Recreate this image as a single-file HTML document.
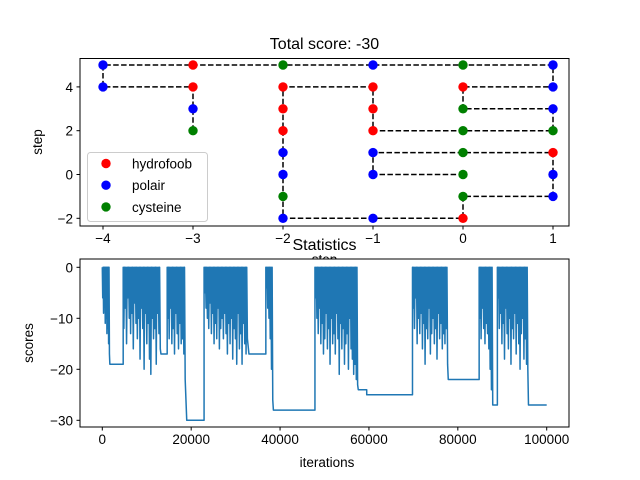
<!DOCTYPE html>
<html><head><meta charset="utf-8"><style>
html,body{margin:0;padding:0;background:#fff;}
svg{display:block;font-family:"Liberation Sans","DejaVu Sans",sans-serif;}
</style></head><body>
<svg id="fig" width="640" height="480" viewBox="0 0 640 480">
<rect width="640" height="480" fill="#fff"/>
<g id="topchart"></g>
<g id="botchart"></g>
</svg>
<script>
// ---- Top chart data ----
const foldX = [-3,-3,-3,-4,-4,-3,-2,-1,0,1,1,0,0,1,1,0,-1,-1,-1,-2,-2,-2,-2,-2,-2,-2,-1,0,0,1,1,1,0,-1,-1,0];
const foldY = [2,3,4,4,5,5,5,5,5,5,4,4,3,3,2,2,2,3,4,4,3,2,1,0,-1,-2,-2,-2,-1,-1,0,1,1,1,0,0];
const foldType = ["C","P","H","P","P","H","C","P","C","P","P","H","C","P","C","C","H","H","H","H","H","H","P","P","C","P","P","H","C","P","P","H","C","P","P","C"];
const topXTicks = [-4,-3,-2,-1,0,1];
const topYTicks = [-2,0,2,4];
const legendLabels = ["hydrofoob","polair","cysteine"];

// ---- Bottom chart data ----
const segStart = [0,1700,4700,13200,14600,19000,22900,33000,36800,38500,47850,57600,59500,69800,77850,84800,88000,88900,95900];
const segEnd   = [1700,4700,13200,14600,18800,22900,32800,36800,38500,47850,57600,59500,69800,77850,84800,88000,88900,95900,100000];
const segFlat  = [null,-19,null,-17,null,-30,null,-17,null,-28,null,-24,-25,null,-22,null,-27,null,-27];
const lowsA = [-6,-9,-4,-11,-10,-13,-12,-15,-17];
const lowsB = [-12,-8,-15,-6,-10,-13,-9,-16,-7,-11,-14,-10,-18,-8,-12,-20,-9,-15,-11,-18,-21,-10,-14,-12,-19,-9,-13,-16];
const lowsC = [-10,-14,-8,-15,-12,-17,-9,-13,-16,-11,-15,-14,-17,-22];
const lowsD = [-5,-8,-10,-12,-7,-13,-9,-15,-11,-14,-8,-16,-12,-10,-14,-9,-13,-17,-11,-15,-10,-18,-12,-14,-19,-9,-16,-13,-19,-11,-15,-17,-14];
const lowsE = [-4,-8,-10,-14,-20,-26];
const lowsF = [-6,-10,-13,-8,-15,-11,-17,-14,-9,-16,-12,-19,-10,-15,-13,-17,-9,-14,-21,-11,-16,-12,-19,-15,-13,-20,-10,-16,-18,-21,-19,-22,-23];
const lowsG = [-8,-12,-6,-15,-10,-13,-9,-16,-11,-19,-12,-14,-8,-17,-13,-10,-15,-12,-18,-9,-14,-11,-16,-13,-15,-12,-19];
const lowsH = [-10,-14,-8,-12,-15,-11,-13,-16,-20,-24,-27];
const lowsI = [-6,-12,-9,-15,-11,-18,-8,-13,-16,-10,-19,-12,-14,-9,-17,-11,-15,-20,-13,-10,-18,-14,-19,-20];
const noiseLows = [lowsA,lowsB,lowsC,lowsD,lowsE,lowsF,lowsG,lowsH,lowsI];
const botXTicks = [0,20000,40000,60000,80000,100000];
const botYTicks = [0,-10,-20,-30];

const NS="http://www.w3.org/2000/svg";
function mk(parent,tag,attrs,text){const e=document.createElementNS(NS,tag);for(const k in attrs)e.setAttribute(k,attrs[k]);if(text!==undefined)e.textContent=text;parent.appendChild(e);return e;}

// top axes
const tx=v=>103+(v+4)*90, ty=v=>174.5-v*21.9;
const topG=document.getElementById('topchart');
const colors={H:"#ff0000",P:"#0000ff",C:"#008000"};
let d="";
for(let i=0;i<foldX.length;i++) d+=(i?"L":"M")+tx(foldX[i])+" "+ty(foldY[i]);
const chain=mk(topG,'path',{d:d,fill:'none',stroke:'#000','stroke-width':1.5,'stroke-dasharray':'5.5,2.4'});


for(let i=0;i<foldX.length;i++){
  const c=mk(topG,'circle',{cx:tx(foldX[i]),cy:ty(foldY[i]),r:4.7,fill:colors[foldType[i]]});
  
  
}
const f1=mk(topG,'rect',{x:80,y:58.5,width:489,height:167.5,fill:'none',stroke:'#000','stroke-width':1});


topXTicks.forEach(v=>{
  mk(topG,'line',{x1:tx(v),x2:tx(v),y1:226,y2:229.5,stroke:'#000'});
  const t=mk(topG,'text',{x:tx(v),y:243,'font-size':13.5,'text-anchor':'middle',fill:'#000'},String(v).replace('-','\u2212'));
  
  
});
topYTicks.forEach(v=>{
  mk(topG,'line',{x1:76.5,x2:80,y1:ty(v),y2:ty(v),stroke:'#000'});
  const t=mk(topG,'text',{x:73,y:ty(v)+5,'font-size':13.5,'text-anchor':'end',fill:'#000'},String(v).replace('-','\u2212'));
  
  
});
const tt=mk(topG,'text',{x:324.5,y:49,'font-size':16,'text-anchor':'middle',fill:'#000'},'Total score: -30');


const tyl=mk(topG,'text',{x:0,y:0,'font-size':13.5,'text-anchor':'middle',fill:'#000',transform:'translate(42,142) rotate(-90)'},'step');


const txl=mk(topG,'text',{x:324.5,y:264,'font-size':13.5,'text-anchor':'middle',fill:'#000'},'step');


const lg=mk(topG,'g',{});


mk(lg,'rect',{x:87.5,y:152.5,width:120,height:69,rx:3,fill:'#fff','fill-opacity':0.8,stroke:'#ccc'});
["H","P","C"].forEach((k,i)=>{
  const y=163.5+i*21.7;
  const e=mk(lg,'g',{});
  
  
  mk(e,'circle',{cx:106,cy:y,r:4.7,fill:colors[k]});
  mk(e,'text',{x:132,y:y+5,'font-size':13.5,fill:'#000'},legendLabels[i]);
});

// bottom axes
const bx=v=>102.3+v*0.004444, by=v=>267.3-v*5.1;
const botG=document.getElementById('botchart');
const bg=mk(botG,'rect',{x:80,y:259,width:489,height:168,fill:'#fff'});


const pts=[];let ni=0;
for(let s=0;s<segStart.length;s++){
  if(segFlat[s]===null){
    const lows=noiseLows[ni++];const st=(segEnd[s]-segStart[s])/lows.length;
    lows.forEach((l,i)=>{pts.push([segStart[s]+i*st,0]);pts.push([segStart[s]+(i+0.5)*st,l]);});
  } else {pts.push([segStart[s],segFlat[s]]);pts.push([segEnd[s],segFlat[s]]);}
}
let d2="";pts.forEach((p,i)=>{d2+=(i?"L":"M")+bx(p[0]).toFixed(2)+" "+by(p[1]).toFixed(2);});
const ln=mk(botG,'path',{d:d2,fill:'none',stroke:'#1f77b4','stroke-width':1.5,'stroke-linejoin':'round'});


const f2=mk(botG,'rect',{x:80,y:259,width:489,height:168,fill:'none',stroke:'#000','stroke-width':1});


botXTicks.forEach(v=>{
  mk(botG,'line',{x1:bx(v),x2:bx(v),y1:427,y2:430.5,stroke:'#000'});
  const t=mk(botG,'text',{x:bx(v),y:444,'font-size':13.5,'text-anchor':'middle',fill:'#000'},String(v));
  
  
});
botYTicks.forEach(v=>{
  mk(botG,'line',{x1:76.5,x2:80,y1:by(v),y2:by(v),stroke:'#000'});
  const t=mk(botG,'text',{x:73,y:by(v)+5,'font-size':13.5,'text-anchor':'end',fill:'#000'},String(v).replace('-','\u2212'));
  
  
});
const bt=mk(botG,'text',{x:324.5,y:250,'font-size':16,'text-anchor':'middle',fill:'#000'},'Statistics');


const bxl=mk(botG,'text',{x:327,y:467,'font-size':13.5,'text-anchor':'middle',fill:'#000'},'iterations');


const byl=mk(botG,'text',{x:0,y:0,'font-size':13.5,'text-anchor':'middle',fill:'#000',transform:'translate(33,343) rotate(-90)'},'scores');


</script>
</body></html>
